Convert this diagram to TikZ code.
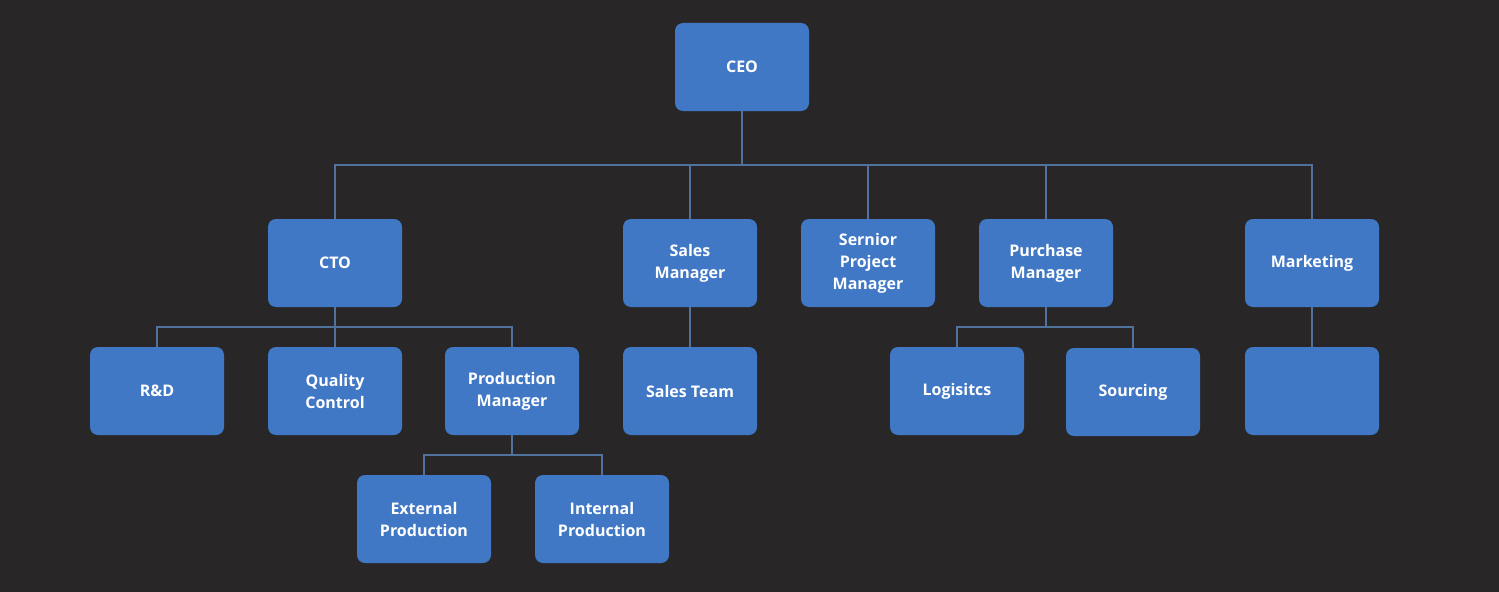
\documentclass[tikz,border=0pt]{standalone}
\usepackage{fontspec}
\setmainfont{Open Sans}
\definecolor{bg}{HTML}{282627}
\definecolor{boxblue}{HTML}{4178C5}
\definecolor{linec}{HTML}{52729E}
\begin{document}
\begin{tikzpicture}[x=0.75pt,y=-0.75pt,
  orgbox/.style={draw=none,fill=boxblue,rounded corners=6pt,minimum width=100.5pt,minimum height=66pt,inner sep=0pt,align=center,text=white,font=\fontsize{12}{16.5}\selectfont\bfseries},
  conn/.style={draw=linec,line width=1.6pt}]
\fill[bg] (0,0) rectangle (1499,592);
\useasboundingbox (0,0) rectangle (1499,592);
% level 1
\node[orgbox] (ceo) at (742,67) {CEO};
% level 2
\node[orgbox] (cto) at (335,263) {CTO};
\node[orgbox] (sales) at (690,263) {Sales\\Manager};
\node[orgbox] (spm) at (868,263) {Sernior\\Project\\Manager};
\node[orgbox] (pur) at (1046,263) {Purchase\\Manager};
\node[orgbox] (mkt) at (1312,263) {Marketing};
% level 3
\node[orgbox] (rd) at (157,391) {R\&D};
\node[orgbox] (qc) at (335,391) {Quality\\Control};
\node[orgbox] (pm) at (512,391) {Production\\Manager};
\node[orgbox] (st) at (690,391) {Sales Team};
\node[orgbox] (log) at (957,391) {Logisitcs};
\node[orgbox] (src) at (1133,392) {Sourcing};
\node[orgbox] (emp) at (1312,391) {};
% level 4
\node[orgbox] (ext) at (424,519) {External\\Production};
\node[orgbox] (int) at (602,519) {Internal\\Production};
% bus coordinates
\coordinate (b1) at (742,165);
\coordinate (b2) at (335,327);
\coordinate (b3) at (512,455);
\coordinate (b4) at (1046,327);
% connectors
\draw[conn] (ceo.south) -- (b1);
\draw[conn] (cto.north) |- (b1) -| (mkt.north);
\draw[conn] (sales.north) -- (sales.north |- b1);
\draw[conn] (spm.north) -- (spm.north |- b1);
\draw[conn] (pur.north) -- (pur.north |- b1);
\draw[conn] (cto.south) -- (qc.north);
\draw[conn] (rd.north) |- (b2) -| (pm.north);
\draw[conn] (pm.south) -- (b3);
\draw[conn] (ext.north) |- (b3) -| (int.north);
\draw[conn] (sales.south) -- (st.north);
\draw[conn] (pur.south) -- (b4);
\draw[conn] (log.north) |- (b4) -| (src.north);
\draw[conn] (mkt.south) -- (emp.north);
\end{tikzpicture}
\end{document}
